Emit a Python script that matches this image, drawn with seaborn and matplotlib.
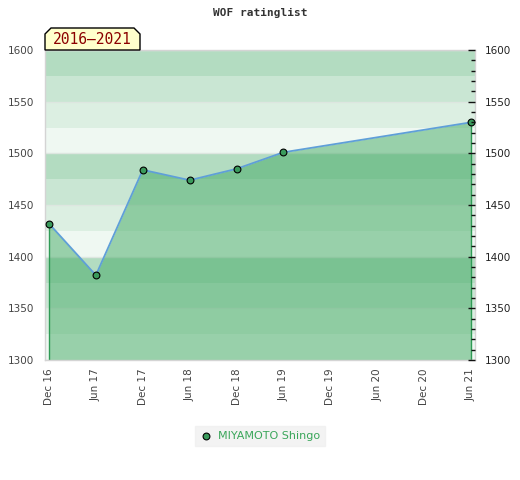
import matplotlib
matplotlib.use("Agg")
import matplotlib.pyplot as plt
from matplotlib.patches import Polygon
from matplotlib.ticker import MultipleLocator
import pandas as pd
import seaborn as sns

# Half-year periods shown on the x axis
periods = ["Dec 16", "Jun 17", "Dec 17", "Jun 18", "Dec 18",
           "Jun 19", "Dec 19", "Jun 20", "Dec 20", "Jun 21"]

# Rating list entries for the player
player = "MIYAMOTO Shingo"
rated_periods = ["Dec 16", "Jun 17", "Dec 17", "Jun 18", "Dec 18", "Jun 19", "Jun 21"]
ratings = [1432, 1382, 1484, 1474, 1485, 1501, 1530]

# Background stripes, repeating every 100 points (top of the block first)
stripe_colors = ["#b3dcc1", "#c9e6d3", "#dcefe2", "#eff8f2"]

df = pd.DataFrame({"period": rated_periods, "rating": ratings})
df["pos"] = df["period"].map({p: i for i, p in enumerate(periods)})

sns.set_style("white")
plt.rcParams["font.family"] = ["DejaVu Sans"]

fig = plt.figure(figsize=(5.2, 4.8), dpi=100)
ax = fig.add_axes([45 / 520, 1 - 360 / 480, 430 / 520, 310 / 480])

ymin, ymax = 1300, 1600
ax.set_ylim(ymin, ymax)
ax.set_xlim(-0.085, len(periods) - 1 + 0.085)

# stripes
lo = ymin
k = 0
while lo < ymax:
    hi = lo + 25
    color = stripe_colors[3 - (k % 4)]
    ax.axhspan(lo, hi, color=color, lw=0, zorder=0)
    lo = hi
    k += 1

ax.yaxis.grid(True, color="#dde6e0", lw=1, zorder=0.5)
ax.set_axisbelow(True)

# area under the rating line
ax.fill_between(df["pos"], ymin, df["rating"], color="#43aa64", alpha=0.5,
                lw=0, zorder=1)
ax.vlines([df["pos"].iloc[0], df["pos"].iloc[-1]], ymin,
          [df["rating"].iloc[0], df["rating"].iloc[-1]],
          color="#2f9a55", lw=1, zorder=2)

sns.lineplot(data=df, x="pos", y="rating", ax=ax, color="#5f9fd8", lw=1.3,
             zorder=3, legend=False)
sns.scatterplot(data=df, x="pos", y="rating", ax=ax, color="#3a9a5c",
                edgecolor="black", linewidth=0.8, s=24, zorder=4,
                label=player, clip_on=False)

ax.set_xticks(range(len(periods)))
ax.set_xticklabels(periods, rotation=90, fontsize=7.5, color="#444444")
ax.yaxis.set_major_locator(MultipleLocator(50))
ax.tick_params(axis="y", length=0, labelsize=7.5, labelcolor="#444444", pad=8)
ax.tick_params(axis="x", length=0, pad=6)
ax.set_xlabel("")
ax.set_ylabel("")
for s in ax.spines.values():
    s.set_color("#d4d4d4")
    s.set_linewidth(1)

# right hand axis with ticks
ax2 = ax.twinx()
ax2.set_ylim(ymin, ymax)
ax2.yaxis.set_major_locator(MultipleLocator(50))
ax2.yaxis.set_minor_locator(MultipleLocator(10))
ax2.tick_params(axis="y", which="major", direction="in", length=5, width=1,
                labelsize=7.5, labelcolor="#222222", color="#111111", pad=7)
ax2.tick_params(axis="y", which="minor", direction="in", length=3, width=1,
                color="#111111")
for s in ax2.spines.values():
    s.set_visible(False)

leg = ax.legend(loc="center", bbox_to_anchor=(0.5, 1 - 436 / 480),
                bbox_transform=fig.transFigure, frameon=True, fontsize=8,
                handletextpad=0.6, borderpad=0.45, handlelength=1.0,
                fancybox=False)
leg.get_frame().set_facecolor("#f0f0f0")
leg.get_frame().set_edgecolor("#f0f0f0")
for t in leg.get_texts():
    t.set_color("#3aa65a")

fig.text(0.5, 1 - 13 / 480, "WOF ratinglist", ha="center", va="center",
         family="DejaVu Sans Mono", fontweight="bold", fontsize=8,
         color="#333333")

# year range tab
tab = [(45, 50), (45, 34), (51, 28), (134, 28), (140, 34), (140, 50)]
tab = [(x / 520, 1 - y / 480) for x, y in tab]
fig.patches.append(Polygon(tab, closed=True, facecolor="#ffffcc",
                           edgecolor="black", lw=1, transform=fig.transFigure,
                           zorder=5))
fig.text(92.5 / 520, 1 - 40 / 480, "2016\u20132021", ha="center", va="center",
         family="DejaVu Sans Mono", fontsize=10.5, color="#8b0000", zorder=6)

fig.savefig("out.png", dpi=100, facecolor="white")
